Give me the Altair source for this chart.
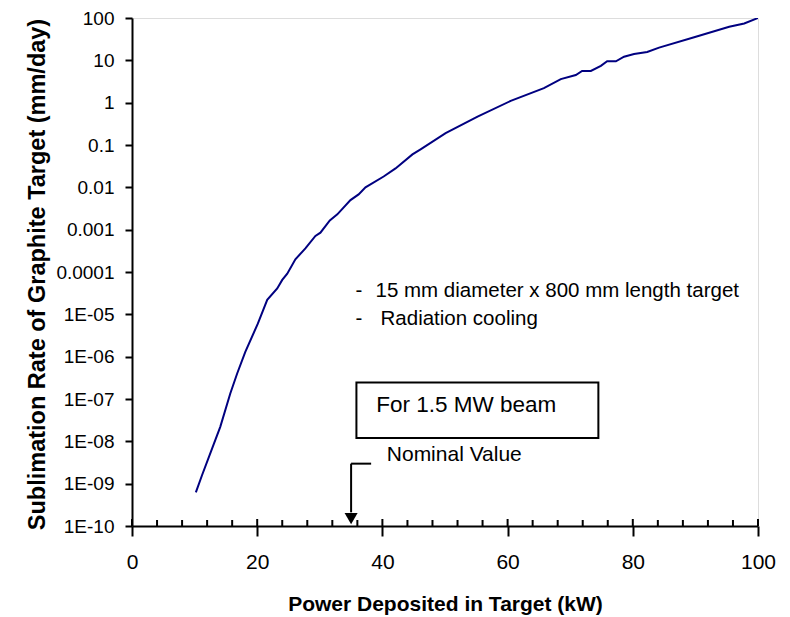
import altair as alt
import pandas as pd

# ---- data ----
power_kw = [10.2, 11.2, 13.0, 14.1, 15.7, 16.8, 18.1, 20.1, 21.6, 23.2, 24.0, 24.8,
            26.1, 27.7, 29.3, 30.1, 31.6, 32.8, 34.9, 36.2, 37.3, 40.2, 42.1, 44.8,
            46.1, 50.1, 55.2, 60.5, 65.8, 68.5, 70.9, 71.9, 73.3, 74.9, 75.9, 77.3,
            78.6, 80.2, 82.3, 84.2, 89.8, 95.4, 97.8, 100.0]
rate = [6.2e-10, 1.6e-9, 8.1e-9, 2.2e-8, 1.35e-7, 4.0e-7, 1.3e-6, 6.0e-6, 2.2e-5,
        4.1e-5, 6.5e-5, 9.1e-5, 2.0e-4, 3.6e-4, 7.1e-4, 8.5e-4, 1.66e-3, 2.3e-3,
        5.0e-3, 6.8e-3, 1.0e-2, 1.8e-2, 2.8e-2, 6.0e-2, 7.9e-2, 0.19, 0.47, 1.1,
        2.2, 3.6, 4.5, 5.6, 5.6, 7.4, 9.5, 9.5, 12.2, 14.1, 15.8, 20, 35, 62, 74, 100]

x_major = [0, 20, 40, 60, 80, 100]
x_minor = [4, 8, 12, 16, 24, 28, 32, 36, 44, 48, 52, 56, 64, 68, 72, 76, 84, 88, 92, 96]
y_ticks = [1e-10, 1e-9, 1e-8, 1e-7, 1e-6, 1e-5, 1e-4, 1e-3, 1e-2, 1e-1, 1, 10, 100]
y_tick_labels = ["1E-10", "1E-09", "1E-08", "1E-07", "1E-06", "1E-05", "0.0001",
                 "0.001", "0.01", "0.1", "1", "10", "100"]

note_text = ["-", "15 mm diameter x 800 mm length target", "-", "Radiation cooling"]
note_x = [35.7, 38.9, 35.7, 39.7]
note_y = [2.6e-5, 2.6e-5, 5.5e-6, 5.5e-6]

box_text = ["For 1.5 MW beam"]
box_text_x = [39.0]
box_text_y = [4.8e-8]

nominal_text = ["Nominal Value"]
nominal_text_x = [40.7]
nominal_text_y = [3.5e-9]

box_x, box_x2 = [35.85], [74.5]
box_y, box_y2 = [2.44e-7], [1.2e-8]

nominal_kw = 35.0
bracket_x = [35.0, 35.0]
bracket_x2 = [35.0, 38.2]
bracket_y = [2.97e-9, 2.97e-9]
bracket_y2 = [2.1e-10, 2.97e-9]
arrow_y = [1.5e-10]

# ---- layout ----
W, H = 626, 508
FONT = "Liberation Sans"

xs = alt.Scale(domain=[0, 100], nice=False, zero=False)
ys = alt.Scale(type="log", domain=[1e-10, 100], nice=False)

label_expr = "[" + ",".join("'%s'" % s for s in y_tick_labels) + "][round(log(datum.value)/LN10)+10]"

curve_df = pd.DataFrame({"x": power_kw, "y": rate})

base_line = alt.Chart(curve_df).mark_line(color="#000080", strokeWidth=2, clip=True).encode(
    x=alt.X("x:Q", scale=xs,
            axis=alt.Axis(title="Power Deposited in Target (kW)", values=x_major,
                          grid=False, tickSize=10, tickWidth=2, tickColor="black",
                          domainColor="black", domainWidth=2, labelFont=FONT,
                          labelFontSize=21, labelColor="black", labelPadding=15,
                          labelFlush=False, labelOverlap=False,
                          titleFont=FONT, titleFontSize=21, titleFontWeight="bold",
                          titleColor="black", titleBaseline="alphabetic", titleY=84)),
    y=alt.Y("y:Q", scale=ys,
            axis=alt.Axis(title="Sublimation Rate of Graphite Target (mm/day)",
                          values=y_ticks, labelExpr=label_expr, grid=False,
                          tickSize=7, tickWidth=2, tickColor="black",
                          domainColor="black", domainWidth=2, labelFont=FONT,
                          labelFontSize=19, labelColor="black", labelPadding=11,
                          labelOverlap=False, labelFlush=False,
                          titleFont=FONT, titleFontSize=23.5, titleFontWeight="bold",
                          titleColor="black", titleBaseline="alphabetic",
                          titleX=-88, titleY=256, titleAngle=270)),
)

maj_df = pd.DataFrame({"x": x_major})
min_df = pd.DataFrame({"x": x_minor})
maj_in = alt.Chart(maj_df).mark_rule(color="black", strokeWidth=2).encode(
    x=alt.X("x:Q", scale=xs), y=alt.value(H), y2=alt.value(H - 7))
min_in = alt.Chart(min_df).mark_rule(color="black", strokeWidth=2).encode(
    x=alt.X("x:Q", scale=xs), y=alt.value(H), y2=alt.value(H - 6))

note_df = pd.DataFrame({"x": note_x, "y": note_y, "t": note_text})
notes = alt.Chart(note_df).mark_text(align="left", baseline="alphabetic", font=FONT,
                                     fontSize=20.5, color="black").encode(
    x=alt.X("x:Q", scale=xs), y=alt.Y("y:Q", scale=ys), text="t:N")

box_df = pd.DataFrame({"x": box_x, "x2": box_x2, "y": box_y, "y2": box_y2})
box = alt.Chart(box_df).mark_rect(fill="white", stroke="black", strokeWidth=2).encode(
    x=alt.X("x:Q", scale=xs), x2="x2:Q", y=alt.Y("y:Q", scale=ys), y2="y2:Q")

bt_df = pd.DataFrame({"x": box_text_x, "y": box_text_y, "t": box_text})
box_label = alt.Chart(bt_df).mark_text(align="left", baseline="alphabetic", font=FONT,
                                       fontSize=22.5, color="black").encode(
    x=alt.X("x:Q", scale=xs), y=alt.Y("y:Q", scale=ys), text="t:N")

nt_df = pd.DataFrame({"x": nominal_text_x, "y": nominal_text_y, "t": nominal_text})
nominal_label = alt.Chart(nt_df).mark_text(align="left", baseline="alphabetic", font=FONT,
                                           fontSize=21, color="black").encode(
    x=alt.X("x:Q", scale=xs), y=alt.Y("y:Q", scale=ys), text="t:N")

br_df = pd.DataFrame({"x": bracket_x, "x2": bracket_x2, "y": bracket_y, "y2": bracket_y2})
bracket = alt.Chart(br_df).mark_rule(color="black", strokeWidth=2).encode(
    x=alt.X("x:Q", scale=xs), x2="x2:Q", y=alt.Y("y:Q", scale=ys), y2="y2:Q")

arr_df = pd.DataFrame({"x": [nominal_kw], "y": arrow_y})
arrow = alt.Chart(arr_df).mark_point(shape="triangle-down", filled=True, color="black",
                                     size=170, opacity=1).encode(
    x=alt.X("x:Q", scale=xs), y=alt.Y("y:Q", scale=ys))

chart = alt.layer(box, base_line, maj_in, min_in, notes, box_label, nominal_label,
                  bracket, arrow).properties(
    width=W, height=H,
    autosize=alt.AutoSizeParams(type="none"),
    padding={"left": 124, "top": 10, "right": 24, "bottom": 99},
).configure_view(stroke="black", strokeWidth=2).configure(background="white")

chart.save("out.html", embed_options={"renderer": "svg", "actions": False})
